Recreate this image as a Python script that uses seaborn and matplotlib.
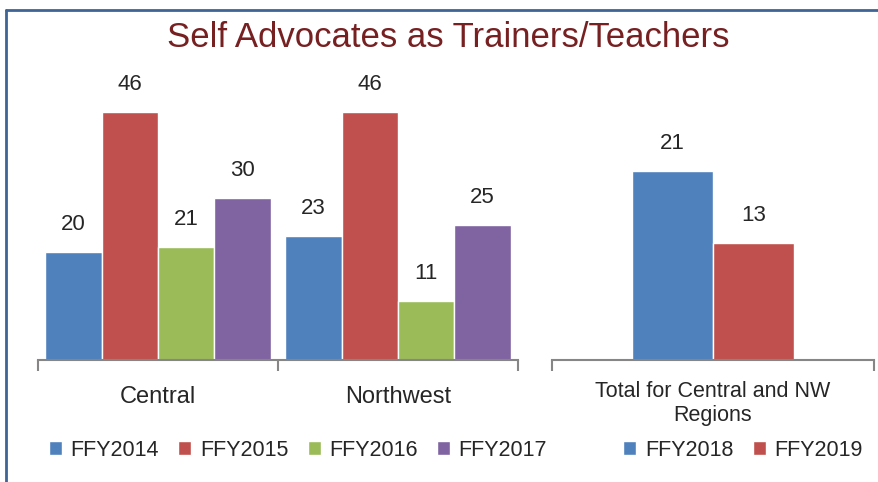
import pandas as pd
import numpy as np
import matplotlib
matplotlib.use("Agg")
import matplotlib.pyplot as plt
import seaborn as sns
from matplotlib.lines import Line2D

# data
regions = ["Central", "Northwest"]
years_left = ["FFY2014", "FFY2015", "FFY2016", "FFY2017"]
central_vals = [20, 46, 21, 30]
northwest_vals = [23, 46, 11, 25]

total_label = "Total for Central and NW\nRegions"
years_right = ["FFY2018", "FFY2019"]
total_vals = [21, 13]

colors_left = ["#4F81BD", "#C0504D", "#9BBB59", "#8064A2"]
colors_right = ["#4F81BD", "#C0504D"]

left_df = pd.DataFrame({
    "Region": [regions[0]] * 4 + [regions[1]] * 4,
    "Year": years_left * 2,
    "Count": central_vals + northwest_vals,
})
right_df = pd.DataFrame({
    "Region": [total_label] * 2,
    "Year": years_right,
    "Count": total_vals,
})

sns.set_style("white")
plt.rcParams['font.family'] = ['Liberation Sans', 'DejaVu Sans']

W, H = 879, 482
fig = plt.figure(figsize=(W / 100, H / 100), dpi=100)

ax1 = fig.add_axes([38 / W, 122 / H, 480 / W, 270 / H])
ax2 = fig.add_axes([552 / W, 122 / H, 322 / W, 270 / H])

sns.barplot(data=left_df, x="Region", y="Count", hue="Year", order=regions,
            hue_order=years_left, palette=colors_left, width=0.94, gap=0,
            saturation=1, ax=ax1)
sns.barplot(data=right_df, x="Region", y="Count", hue="Year",
            hue_order=years_right, palette=colors_right, width=0.503, gap=0,
            saturation=1, ax=ax2)

for ax, ymax, n, pad in [(ax1, 50, 2, 19), (ax2, 30, 1, 15)]:
    ax.set_xlim(-0.5, n - 0.5)
    ax.set_ylim(0, ymax)
    ax.set_xlabel("")
    ax.set_ylabel("")
    ax.set_yticks([])
    for s in ["left", "top", "right"]:
        ax.spines[s].set_visible(False)
    ax.spines["bottom"].set_color("#868686")
    ax.spines["bottom"].set_linewidth(1.5)
    ax.set_xticks(np.arange(-0.5, n, 1.0), minor=True)
    ax.tick_params(axis="x", which="minor", bottom=True, length=8, width=1.5,
                   color="#868686", direction="out")
    ax.tick_params(axis="x", which="major", bottom=False, length=0, pad=pad)
    for c in ax.containers:
        ax.bar_label(c, padding=12, fontsize=16)
    if ax.get_legend() is not None:
        ax.get_legend().remove()

ax1.tick_params(axis="x", which="major", labelsize=17)
ax2.tick_params(axis="x", which="major", labelsize=15.5)
for lbl in ax2.get_xticklabels():
    lbl.set_linespacing(1.2)

leg_kw = dict(loc="center", bbox_transform=fig.transFigure, frameon=False,
              fontsize=15.5, handlelength=0.6, handleheight=0.6,
              handletextpad=0.4, columnspacing=0.9, borderpad=0)
h1, l1 = ax1.get_legend_handles_labels()
ax1.legend(h1, l1, ncol=4, bbox_to_anchor=(298 / W, 1 - 450 / H), **leg_kw)
h2, l2 = ax2.get_legend_handles_labels()
ax2.legend(h2, l2, ncol=2, bbox_to_anchor=(743 / W, 1 - 450 / H), **leg_kw)

fig.suptitle("Self Advocates as Trainers/Teachers", x=448 / W, y=1 - 21 / H,
             va="top", fontsize=25, color="#772022")

# frame lines on top and left edges
fig.add_artist(Line2D([6 / W, 6 / W], [0, 1 - 10 / H], color="#3F6496", lw=2))
fig.add_artist(Line2D([6 / W, 1], [1 - 10 / H, 1 - 10 / H], color="#3F6496", lw=2))

fig.savefig("out.png", dpi=100)
